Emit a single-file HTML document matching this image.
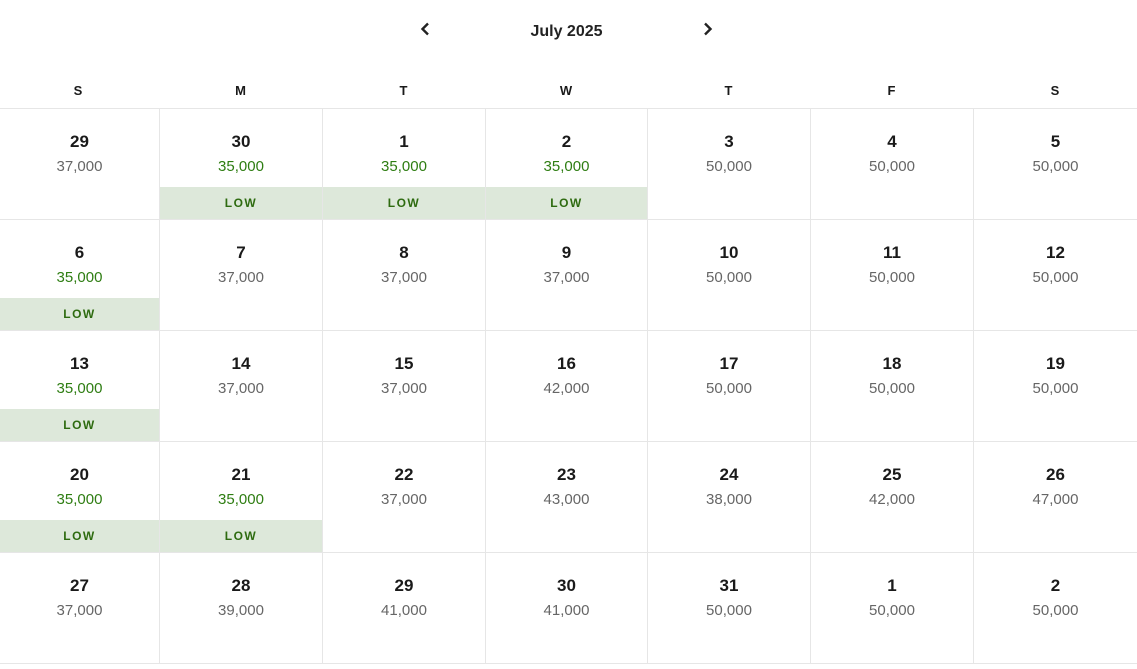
<!DOCTYPE html>
<html><head><meta charset="utf-8"><style>
*{margin:0;padding:0;box-sizing:border-box}
body{width:1137px;height:669px;background:#fff;font-family:"Liberation Sans",Arial,sans-serif;color:#1a1a1a;position:relative;overflow:hidden}
.title{position:absolute;top:23px;left:0;width:1133px;text-align:center;font-size:16px;font-weight:bold;color:#222}
.arr{position:absolute;top:22px}
.dow{position:absolute;top:83px;font-size:13px;font-weight:bold;text-align:center}
.grid{position:absolute;top:108px;left:0;width:1137px;display:grid;grid-template-columns:160px 163px 163px 162px 163px 163px 163px;grid-auto-rows:111px;border-top:1px solid #e6e6e6}
.c{position:relative;border-right:1px solid #e6e6e6;border-bottom:1px solid #e6e6e6;text-align:center}
.c:nth-child(7n){border-right:none}
.d{position:absolute;top:23px;width:100%;font-size:17px;font-weight:bold;color:#1a1a1a}
.p{position:absolute;top:49px;width:100%;font-size:15px;color:#666}
.g .p{color:#2e7d12}
.low{position:absolute;left:0;right:0;top:78px;height:32px;background:#dde8da;color:#2e6b10;font-size:12px;font-weight:bold;letter-spacing:1.5px;line-height:32px}
</style></head><body>
<svg class="arr" style="left:420px" width="10" height="14" viewBox="0 0 10 14"><path d="M8 1.5 L2.5 7 L8 12.5" fill="none" stroke="#222" stroke-width="2.4"/></svg>
<div class="title">July 2025</div>
<svg class="arr" style="left:703px" width="10" height="14" viewBox="0 0 10 14"><path d="M2 1.5 L7.5 7 L2 12.5" fill="none" stroke="#222" stroke-width="2.4"/></svg>
<div class="dow" style="left:0;width:156px">S</div>
<div class="dow" style="left:159px;width:163px">M</div>
<div class="dow" style="left:322px;width:163px">T</div>
<div class="dow" style="left:485px;width:162px">W</div>
<div class="dow" style="left:647px;width:163px">T</div>
<div class="dow" style="left:810px;width:163px">F</div>
<div class="dow" style="left:973px;width:164px">S</div>
<div class="grid">
<div class="c"><div class="d">29</div><div class="p">37,000</div></div>
<div class="c g"><div class="d">30</div><div class="p">35,000</div><div class="low">LOW</div></div>
<div class="c g"><div class="d">1</div><div class="p">35,000</div><div class="low">LOW</div></div>
<div class="c g"><div class="d">2</div><div class="p">35,000</div><div class="low">LOW</div></div>
<div class="c"><div class="d">3</div><div class="p">50,000</div></div>
<div class="c"><div class="d">4</div><div class="p">50,000</div></div>
<div class="c"><div class="d">5</div><div class="p">50,000</div></div>

<div class="c g"><div class="d">6</div><div class="p">35,000</div><div class="low">LOW</div></div>
<div class="c"><div class="d">7</div><div class="p">37,000</div></div>
<div class="c"><div class="d">8</div><div class="p">37,000</div></div>
<div class="c"><div class="d">9</div><div class="p">37,000</div></div>
<div class="c"><div class="d">10</div><div class="p">50,000</div></div>
<div class="c"><div class="d">11</div><div class="p">50,000</div></div>
<div class="c"><div class="d">12</div><div class="p">50,000</div></div>

<div class="c g"><div class="d">13</div><div class="p">35,000</div><div class="low">LOW</div></div>
<div class="c"><div class="d">14</div><div class="p">37,000</div></div>
<div class="c"><div class="d">15</div><div class="p">37,000</div></div>
<div class="c"><div class="d">16</div><div class="p">42,000</div></div>
<div class="c"><div class="d">17</div><div class="p">50,000</div></div>
<div class="c"><div class="d">18</div><div class="p">50,000</div></div>
<div class="c"><div class="d">19</div><div class="p">50,000</div></div>

<div class="c g"><div class="d">20</div><div class="p">35,000</div><div class="low">LOW</div></div>
<div class="c g"><div class="d">21</div><div class="p">35,000</div><div class="low">LOW</div></div>
<div class="c"><div class="d">22</div><div class="p">37,000</div></div>
<div class="c"><div class="d">23</div><div class="p">43,000</div></div>
<div class="c"><div class="d">24</div><div class="p">38,000</div></div>
<div class="c"><div class="d">25</div><div class="p">42,000</div></div>
<div class="c"><div class="d">26</div><div class="p">47,000</div></div>

<div class="c"><div class="d">27</div><div class="p">37,000</div></div>
<div class="c"><div class="d">28</div><div class="p">39,000</div></div>
<div class="c"><div class="d">29</div><div class="p">41,000</div></div>
<div class="c"><div class="d">30</div><div class="p">41,000</div></div>
<div class="c"><div class="d">31</div><div class="p">50,000</div></div>
<div class="c"><div class="d">1</div><div class="p">50,000</div></div>
<div class="c"><div class="d">2</div><div class="p">50,000</div></div>
</div>
</body></html>
